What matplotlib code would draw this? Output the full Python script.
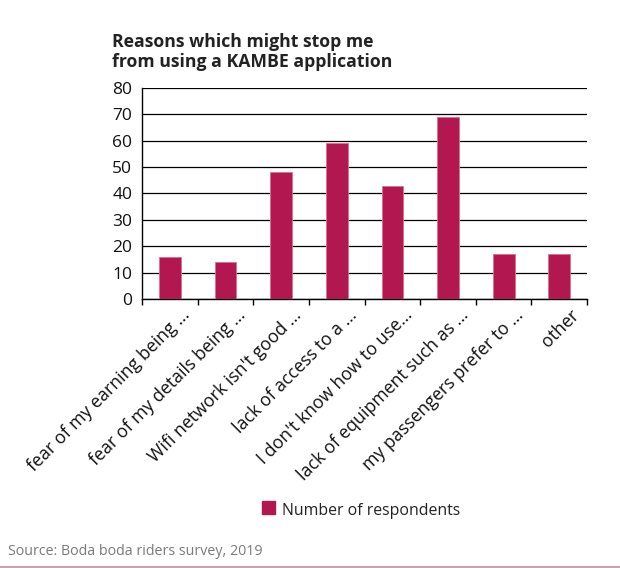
import numpy as np
import matplotlib
matplotlib.use('Agg')
from matplotlib import pyplot as plt
from matplotlib.patches import Rectangle
from matplotlib.transforms import ScaledTranslation

plt.rcParams['font.family'] = ['Open Sans', 'DejaVu Sans']

categories = ['fear of my earning being ...', 'fear of my details being ...',
              "Wifi network isn't good ...", 'lack of access to a ...',
              "I don't know how to use...", 'lack of equipment such as ...',
              'my passengers prefer to ...', 'other']
respondents = [16, 14, 48, 59, 43, 69, 17, 17]
yticks = [0, 10, 20, 30, 40, 50, 60, 70, 80]

bar_color = '#B3174F'

fig = plt.figure(figsize=(6.2, 5.68), dpi=100)
ax = fig.add_axes([0.229, 0.4736, 0.718, 0.3715])

x = np.arange(len(categories))
ax.bar(x, respondents, width=0.39, color=bar_color, zorder=3,
       edgecolor='#d9738f', linewidth=0.6)

ax.set_ylim(0, 80)
ax.set_xlim(-0.5, len(categories) - 0.5)
ax.set_yticks(yticks)
ax.yaxis.grid(True, color='black', linewidth=0.9, zorder=0)
ax.tick_params(axis='y', length=0, labelsize=12.5, pad=7, labelcolor='#111111')

# category labels at centers, tick marks between categories
ax.set_xticks(x)
ax.set_xticklabels(categories, rotation=45, ha='right', rotation_mode='anchor',
                   fontsize=12.8, color='#111111')
ax.tick_params(axis='x', length=0, pad=5)
shift = ScaledTranslation(8 / 72, 0, fig.dpi_scale_trans)
for lbl in ax.get_xticklabels():
    lbl.set_transform(lbl.get_transform() + shift)
ax.set_xticks(np.arange(len(categories) + 1) - 0.5, minor=True)
ax.tick_params(axis='x', which='minor', length=4, width=1, direction='out')

for s in ['top', 'right']:
    ax.spines[s].set_visible(False)
ax.spines['left'].set_linewidth(1)
ax.spines['bottom'].set_linewidth(1)

fig.text(0.181, 1 - 47 / 568, 'Reasons which might stop me',
         fontsize=12.7, fontweight='bold', color='#222222', va='baseline')
fig.text(0.181, 1 - 67 / 568, 'from using a KAMBE application',
         fontsize=12.7, fontweight='bold', color='#222222', va='baseline')

# legend
fig.patches.append(Rectangle((262 / 620, 1 - 514 / 568), 13 / 620, 13 / 568,
                             color=bar_color, transform=fig.transFigure, figure=fig))
fig.text(282 / 620, 1 - 515 / 568, 'Number of respondents', fontsize=11.4,
         color='#222222', va='baseline')

fig.text(8 / 620, 1 - 555 / 568, 'Source: Boda boda riders survey, 2019',
         fontsize=10.3, color='#7a7a7a', va='baseline')
fig.add_artist(plt.Line2D([0, 1], [1 - 567 / 568] * 2, color='#c98aa0',
                          linewidth=1.2, transform=fig.transFigure))

fig.savefig('out.png', dpi=100)
